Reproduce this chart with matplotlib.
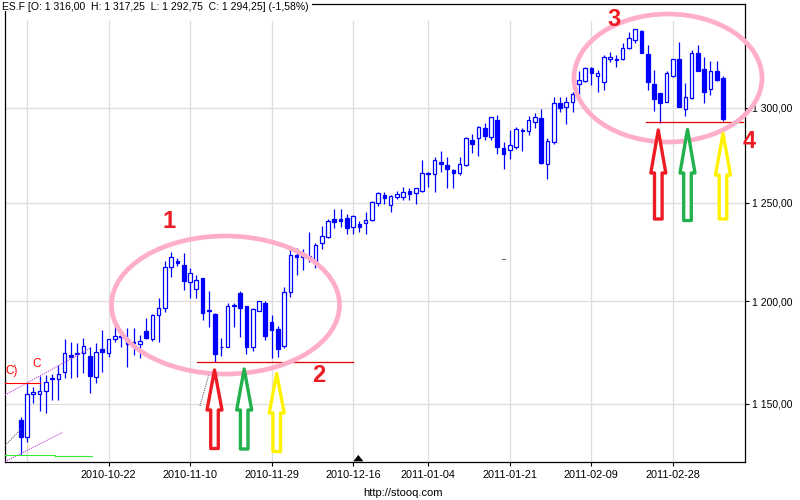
import numpy as np
import pandas as pd
import matplotlib
matplotlib.use("Agg")
import matplotlib.pyplot as plt
from matplotlib.patches import Ellipse, Polygon, Rectangle
from matplotlib.lines import Line2D
from matplotlib.ticker import FixedLocator, FuncFormatter, NullLocator

plt.rcParams["font.family"] = ["Liberation Sans", "DejaVu Sans"]

# trading days (CME closed on 2010-12-24)
dates = [d for d in pd.bdate_range("2010-10-04", "2011-03-10") if d != pd.Timestamp("2010-12-24")]

opens = [1142.4, 1134.3, 1154.6, 1154.6, 1156.1, 1162.3, 1161.8, 1165.5, 1173.5, 1174.7,
         1174.4, 1173.1, 1162.8, 1176.3, 1174.7, 1181.2, 1183.0, 1181.2, 1179.5, 1178.9,
         1185.3, 1181.2, 1193.2, 1196.5, 1217.0, 1220.2, 1218.2, 1209.5, 1206.0, 1211.5,
         1195.6, 1193.7, 1177.3, 1177.6, 1197.6, 1203.9, 1197.6, 1177.3, 1195.3, 1199.3,
         1189.6, 1186.3, 1178.1, 1204.4, 1223.0, 1222.0, 1222.3, 1219.3, 1229.4, 1232.5,
         1241.6, 1241.6, 1242.0, 1237.3, 1239.0, 1239.4, 1241.1, 1249.7, 1254.0, 1248.7,
         1253.1, 1253.1, 1256.1, 1254.9, 1256.2, 1265.5, 1264.8, 1271.1, 1269.5, 1267.0,
         1265.3, 1269.7, 1282.9, 1283.8, 1289.1, 1284.6, 1293.6, 1278.4, 1277.5, 1278.9,
         1288.2, 1287.7, 1292.7, 1294.5, 1270.0, 1281.7, 1302.5, 1300.4, 1303.1, 1313.0,
         1314.8, 1321.5, 1317.4, 1314.3, 1326.5, 1326.5, 1326.5, 1332.5, 1337.1, 1342.3,
         1329.4, 1312.8, 1308.0, 1303.4, 1317.4, 1326.5, 1299.3, 1305.3, 1329.8, 1321.0,
         1310.1, 1320.1, 1316.0]
highs = [1144.0, 1160.0, 1158.3, 1163.4, 1163.7, 1164.6, 1168.6, 1181.2, 1180.1, 1179.3,
         1181.7, 1177.6, 1179.3, 1185.8, 1181.4, 1188.2, 1185.8, 1186.6, 1186.6, 1183.3,
         1191.9, 1193.5, 1201.5, 1220.0, 1224.5, 1221.7, 1224.2, 1216.5, 1213.1, 1211.8,
         1205.1, 1194.0, 1181.7, 1199.0, 1199.0, 1205.3, 1197.8, 1196.5, 1200.1, 1200.0,
         1193.2, 1187.8, 1206.9, 1226.3, 1226.6, 1226.1, 1235.0, 1229.1, 1238.0, 1241.5,
         1246.8, 1246.8, 1244.2, 1243.7, 1240.7, 1245.4, 1251.0, 1255.7, 1255.7, 1254.0,
         1256.1, 1258.3, 1257.5, 1257.6, 1272.3, 1266.0, 1274.1, 1276.8, 1273.7, 1267.5,
         1273.7, 1284.3, 1286.1, 1290.3, 1291.8, 1295.2, 1296.3, 1282.0, 1288.2, 1290.0,
         1289.1, 1295.9, 1297.5, 1299.3, 1283.8, 1305.8, 1305.8, 1306.1, 1308.8, 1320.3,
         1322.3, 1322.3, 1320.7, 1328.8, 1330.7, 1328.8, 1335.6, 1341.7, 1343.3, 1342.5,
         1334.3, 1320.7, 1308.2, 1320.3, 1326.7, 1336.2, 1313.4, 1331.6, 1334.3, 1327.9,
         1325.6, 1325.6, 1317.25]
lows = [1125.9, 1132.2, 1150.5, 1146.7, 1145.9, 1151.9, 1151.9, 1162.3, 1162.3, 1163.1,
        1164.7, 1155.1, 1159.9, 1165.5, 1172.7, 1180.1, 1177.6, 1167.9, 1173.5, 1171.9,
        1181.5, 1180.5, 1180.1, 1194.8, 1212.0, 1217.6, 1205.6, 1201.6, 1201.6, 1190.7,
        1187.4, 1170.3, 1173.1, 1177.3, 1187.4, 1182.5, 1174.0, 1175.6, 1195.0, 1180.9,
        1171.9, 1172.7, 1176.8, 1202.1, 1212.9, 1215.6, 1219.8, 1216.8, 1226.1, 1232.0,
        1236.8, 1237.7, 1233.7, 1233.7, 1235.0, 1233.7, 1240.7, 1248.5, 1249.3, 1245.4,
        1251.9, 1251.4, 1251.4, 1249.2, 1255.7, 1258.3, 1255.7, 1266.2, 1257.8, 1257.8,
        1264.4, 1269.3, 1276.2, 1274.6, 1282.9, 1282.9, 1275.3, 1267.4, 1272.8, 1278.0,
        1277.0, 1285.6, 1289.1, 1270.3, 1262.3, 1280.8, 1298.0, 1291.5, 1298.0, 1306.6,
        1314.3, 1312.5, 1308.8, 1309.7, 1325.2, 1322.4, 1326.1, 1332.0, 1335.3, 1329.8,
        1309.7, 1298.4, 1292.1, 1303.2, 1317.0, 1300.5, 1295.7, 1305.0, 1319.8, 1302.5,
        1307.0, 1314.8, 1292.75]
closes = [1134.3, 1154.6, 1155.6, 1156.2, 1160.5, 1161.8, 1164.4, 1174.4, 1172.7, 1174.0,
          1178.1, 1163.6, 1174.9, 1175.2, 1181.2, 1183.0, 1182.5, 1178.8, 1180.0, 1180.4,
          1182.0, 1193.2, 1196.5, 1217.0, 1222.1, 1219.3, 1210.3, 1214.0, 1210.6, 1194.3,
          1195.1, 1174.0, 1177.7, 1197.6, 1198.0, 1196.8, 1177.6, 1196.1, 1199.9, 1182.9,
          1185.8, 1176.3, 1204.4, 1223.1, 1222.3, 1223.0, 1222.8, 1228.3, 1232.8, 1240.7,
          1240.2, 1240.7, 1236.8, 1243.1, 1237.7, 1241.1, 1250.5, 1254.9, 1252.3, 1253.5,
          1254.4, 1255.4, 1254.4, 1257.5, 1265.3, 1265.0, 1272.3, 1270.0, 1267.4, 1265.3,
          1270.0, 1283.8, 1280.6, 1290.0, 1285.2, 1295.0, 1279.2, 1275.7, 1280.0, 1288.6,
          1287.5, 1293.6, 1295.4, 1270.6, 1282.5, 1302.5, 1299.8, 1303.1, 1307.4, 1315.2,
          1321.5, 1318.8, 1319.2, 1327.6, 1327.6, 1326.0, 1332.9, 1338.0, 1343.1, 1330.1,
          1313.9, 1304.9, 1302.6, 1318.8, 1326.5, 1300.7, 1306.1, 1329.8, 1320.1, 1308.8,
          1320.3, 1315.2, 1294.25]

tick_dates = ["2010-10-22", "2010-11-10", "2010-11-29", "2010-12-16",
              "2011-01-04", "2011-01-21", "2011-02-09", "2011-02-28"]
grid_dates = ["2010-10-05"] + tick_dates
y_ticks = [1150, 1200, 1250, 1300]
title = "ES.F [O: 1 316,00  H: 1 317,25  L: 1 292,75  C: 1 294,25] (-1,58%)"

W, H = 800, 500
BLUE = "#0000ff"
RED, GREEN, YELLOW, PINK = "#ed1c24", "#22b14c", "#fff200", "#ffaec9"


def fxy(x, y):
    # pixel position -> figure fraction
    return x / W, 1 - y / H


fig = plt.figure(figsize=(8, 5), dpi=100)
ax = fig.add_axes([5 / W, 38 / H, 740 / W, 458 / H])
ax.set_yscale("log")

idx = np.arange(len(dates))
o, h, l, c = (np.array(v) for v in (opens, highs, lows, closes))
up = c >= o
lo = np.minimum(o, c)
hgt = np.maximum(np.abs(c - o), 0.35)

ax.vlines(idx, l, h, color=BLUE, lw=0.9, zorder=3)
ax.bar(idx[up], hgt[up], bottom=lo[up], width=0.58, facecolor="white",
       edgecolor=BLUE, lw=0.9, zorder=4)
ax.bar(idx[~up], hgt[~up], bottom=lo[~up], width=0.58, facecolor=BLUE,
       edgecolor=BLUE, lw=0.9, zorder=4)

ax.set_xlim(-2.51, 115.51)
ax.set_ylim(1122.7, 1357.2)

date_str = [d.strftime("%Y-%m-%d") for d in dates]
for gd in grid_dates:
    ax.axvline(date_str.index(gd), ymax=(462 - 21) / 458, color="#dddddd", lw=0.9, zorder=0)
for v in y_ticks:
    ax.axhline(v, color="#dddddd", lw=0.9, zorder=0)

ax.set_xticks([date_str.index(t) for t in tick_dates])
ax.set_xticklabels(tick_dates)
ax.yaxis.set_major_locator(FixedLocator(y_ticks))
ax.yaxis.set_minor_locator(NullLocator())
ax.yaxis.set_major_formatter(FuncFormatter(
    lambda v, p: f"{v:,.2f}".replace(",", " ").replace(".", ",")))
ax.yaxis.tick_right()
ax.tick_params(axis="y", length=3, width=0.8, pad=2, labelsize=7.5)
ax.tick_params(axis="x", length=3, width=0.8, pad=2.5, labelsize=7.8)
for s in ax.spines.values():
    s.set_linewidth(0.9)
    s.set_color("black")

# header text over the frame
fig.add_artist(Rectangle((0, 1 - 11 / H), 312 / W, 11 / H, transform=fig.transFigure,
                         fc="white", ec="none", zorder=5))
fig.text(2 / W, 1 - 1.5 / H, title, ha="left", va="top", fontsize=7.5, zorder=6)
fig.text(363 / W, 1 - 492.5 / H, "http://stooq.com", ha="left", va="center", fontsize=8)
fig.add_artist(Polygon([fxy(354, 461), fxy(362.7, 461), fxy(358.3, 455.5)], closed=True,
                       fc="black", ec="black", lw=0.5, transform=fig.transFigure, zorder=6))


def seg(x1, y1, x2, y2, color, lw=0.8, ls="-", z=8):
    fig.add_artist(Line2D([x1 / W, x2 / W], [1 - y1 / H, 1 - y2 / H], color=color, lw=lw,
                          ls=ls, transform=fig.transFigure, zorder=z))


# old drawings on the left
seg(5, 461.7, 62.7, 432.3, "#c040d8", ls=(0, (1, 1)))
seg(5, 395, 90, 348.3, "#c040d8", ls=(0, (1, 1)))
seg(5, 383, 40, 383, "#ff0000")
seg(5, 455, 55, 455, "#33ee33")
seg(55, 456, 92, 456, "#33ee33")
seg(5, 445.7, 21.7, 428.3, "#666666", ls=(0, (1, 1)))
seg(200, 406, 209, 374, "#666666", ls=(0, (1, 1)))
seg(502, 259, 505, 259, "#666666")
fig.text(5.5 / W, 1 - 371 / H, "C)", ha="left", va="center", fontsize=8.5, color="#ff0000")
fig.text(36.5 / W, 1 - 364 / H, "C", ha="center", va="center", fontsize=8.5, color="#ff0000")

# support lines
seg(197.3, 361.7, 353.3, 361.7, "#e00000", lw=0.9)
seg(646, 122.3, 742.7, 122.3, "#e00000", lw=0.9)

# pink ellipses
for cx, cy, ew, eh in [(225.5, 305, 228, 138), (668, 78, 188, 128)]:
    fig.add_artist(Ellipse(fxy(cx, cy), ew / W, eh / H, transform=fig.transFigure,
                           fill=False, ec=PINK, lw=3.4, zorder=10))


def up_arrow(cx, tip, shoulder, bottom, color, hw=7.5, sw=3.8):
    pts = [(cx, tip), (cx + hw, shoulder), (cx + sw, shoulder), (cx + sw, bottom),
           (cx - sw, bottom), (cx - sw, shoulder), (cx - hw, shoulder)]
    fig.add_artist(Polygon([fxy(px, py) for px, py in pts], closed=True, fc="white",
                           ec=color, lw=2.4, joinstyle="round",
                           transform=fig.transFigure, zorder=11))


up_arrow(214.5, 370, 410, 448.5, RED)
up_arrow(244.2, 369, 410, 449, GREEN)
up_arrow(276.7, 373.5, 413, 451.5, YELLOW)
up_arrow(658.3, 130, 173, 219, RED)
up_arrow(687.5, 129.5, 173, 220.5, GREEN)
up_arrow(723, 133.5, 175, 219, YELLOW)

for txt, px, py in [("1", 169, 222), ("2", 318.5, 376), ("3", 614, 19), ("4", 749, 141)]:
    fig.text(px / W, 1 - py / H, txt, ha="center", va="center", fontsize=17,
             fontweight="bold", color=RED, zorder=12)

fig.savefig("out.png", dpi=100)
